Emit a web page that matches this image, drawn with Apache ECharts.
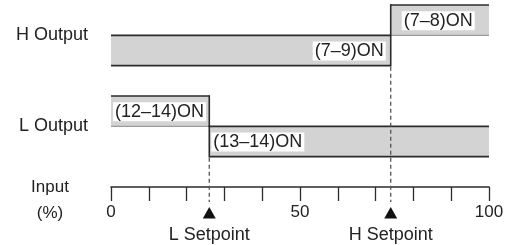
<!DOCTYPE html>
<html>
<head>
<meta charset="utf-8">
<script src="https://cdn.jsdelivr.net/npm/echarts@6/dist/echarts.min.js"></script>
<style>
  html, body { margin: 0; padding: 0; background: #fff; }
  #chart { width: 510px; height: 245px; }
</style>
</head>
<body>
<div id="chart"></div>
<script>
// output bands: from/to in input %, bottom level of the band (each band is 1 level tall)
var bandLabels = ['(7–9)ON', '(7–8)ON', '(12–14)ON', '(13–14)ON'];
var bandOutput = ['H', 'H', 'L', 'L'];
var bandFrom = [0, 74, 0, 26];
var bandTo = [74, 100, 26, 100];
var bandLevel = [4, 5, 2, 1];

var rowNames = ['H Output', 'L Output'];
var rowKeys = ['H', 'L'];

var setpoints = [26, 74];
var setpointNames = ['L Setpoint', 'H Setpoint'];

var tickLabels = [0, 50, 100];

var FONT = '"Liberation Sans", Arial, Helvetica, sans-serif';
var DARK = '#2b2b2b';
var FILL = '#d3d3d3';
var TEXT = '#222';

function isUpper(i) {
  for (var j = 0; j < bandLevel.length; j++) {
    if (bandOutput[j] === bandOutput[i] && bandLevel[j] < bandLevel[i]) return true;
  }
  return false;
}

function rowLevel(key) {
  var lv = -1;
  bandOutput.forEach(function (o, j) { if (o === key) lv = Math.max(lv, bandLevel[j]); });
  return lv;
}

function lowestAt(sp) {
  var lv = Infinity;
  for (var j = 0; j < bandLevel.length; j++) {
    if (bandFrom[j] === sp || bandTo[j] === sp) lv = Math.min(lv, bandLevel[j]);
  }
  return lv;
}

// label placement (pixel offsets), not data
var labelAlign = ['right', 'left', 'left', 'left'];
var labelOffset = [-5, 11, 2, 2];

function renderBand(params, api) {
  var i = params.dataIndex;
  var from = api.value(0), to = api.value(1), lv = api.value(2);
  var tl = api.coord([from, lv + 1]);
  var br = api.coord([to, lv]);
  var upper = isUpper(i);
  var children = [
    { type: 'rect', shape: { x: tl[0], y: tl[1], width: br[0] - tl[0], height: br[1] - tl[1] }, style: { fill: FILL } },
    { type: 'line', shape: { x1: tl[0], y1: tl[1], x2: br[0], y2: tl[1] }, style: { stroke: DARK, lineWidth: 1.6 } },
    { type: 'line', shape: { x1: tl[0], y1: br[1], x2: br[0], y2: br[1] },
      style: { stroke: upper ? '#8a8a8a' : DARK, lineWidth: upper ? 1 : 1.6 } }
  ];
  var edges = [];
  if (from > 0) edges.push(tl[0]);
  if (to < 100) edges.push(br[0]);
  edges.forEach(function (x) {
    children.push({ type: 'line', shape: { x1: x, y1: tl[1] - 0.8, x2: x, y2: br[1] + 0.8 }, style: { stroke: DARK, lineWidth: 1.6 } });
  });
  var tx = labelAlign[i] === 'right' ? br[0] + labelOffset[i] : tl[0] + labelOffset[i];
  children.push({
    type: 'text', x: tx, y: (tl[1] + br[1]) / 2 + 0.5, z2: 10,
    style: {
      text: bandLabels[i], font: '18px ' + FONT, fill: TEXT,
      align: labelAlign[i], verticalAlign: 'middle',
      backgroundColor: '#fff', padding: [1, 2, 0, 2]
    }
  });
  return { type: 'group', children: children };
}

function renderSetpoint(params, api) {
  var i = params.dataIndex;
  var sp = api.value(0);
  var ax = api.coord([sp, 0]);
  var top = api.coord([sp, lowestAt(sp)]);
  var x = ax[0];
  return {
    type: 'group',
    children: [
      { type: 'line', shape: { x1: x, y1: top[1] + 1, x2: x, y2: ax[1] + 15 },
        style: { stroke: '#555', lineWidth: 1.3, lineDash: [4, 3] } },
      { type: 'polygon', shape: { points: [[x, ax[1] + 20], [x - 6.5, ax[1] + 31.5], [x + 6.5, ax[1] + 31.5]] },
        style: { fill: '#111' } },
      { type: 'text', x: x, y: ax[1] + 48,
        style: { text: setpointNames[i], font: '18px ' + FONT, fill: TEXT, align: 'center', verticalAlign: 'middle' } }
    ]
  };
}

var chart = echarts.init(document.getElementById('chart'), null, { renderer: 'canvas' });

var option = {
  animation: false,
  grid: { left: 111, right: 21, top: 5, bottom: 58 },
  xAxis: {
    type: 'value', min: 0, max: 100, interval: 10,
    // leading empty line puts "Input" level with the axis and "(%)" with the tick labels
    name: '\nInput\n(%)', nameLocation: 'start', nameGap: 61,
    nameTextStyle: { fontFamily: FONT, fontSize: 17, color: TEXT, align: 'center', verticalAlign: 'middle',
      lineHeight: 26 },
    axisLine: { show: true, lineStyle: { color: DARK, width: 1.6 } },
    axisTick: { show: true, length: 14, lineStyle: { color: DARK, width: 1.3 } },
    splitLine: { show: false },
    axisLabel: {
      margin: 17, fontFamily: FONT, fontSize: 17, color: TEXT,
      formatter: function (v) { return tickLabels.indexOf(v) >= 0 ? String(v) : ''; }
    }
  },
  yAxis: {
    type: 'value', min: 0, max: 6, interval: 1,
    axisLine: { show: false }, axisTick: { show: false }, splitLine: { show: false },
    axisLabel: {
      margin: 23, fontFamily: FONT, fontSize: 18, color: TEXT,
      formatter: function (v) {
        for (var k = 0; k < rowKeys.length; k++) {
          if (rowLevel(rowKeys[k]) === v) return rowNames[k];
        }
        return '';
      }
    }
  },
  series: [
    {
      type: 'custom', renderItem: renderBand, clip: false,
      encode: { x: [0, 1], y: 2 },
      data: bandFrom.map(function (f, i) { return [f, bandTo[i], bandLevel[i]]; })
    },
    {
      type: 'custom', renderItem: renderSetpoint, clip: false,
      encode: { x: 0, y: 1 },
      data: setpoints.map(function (s) { return [s, 0]; })
    }
  ]
};

chart.setOption(option);
</script>
</body>
</html>
